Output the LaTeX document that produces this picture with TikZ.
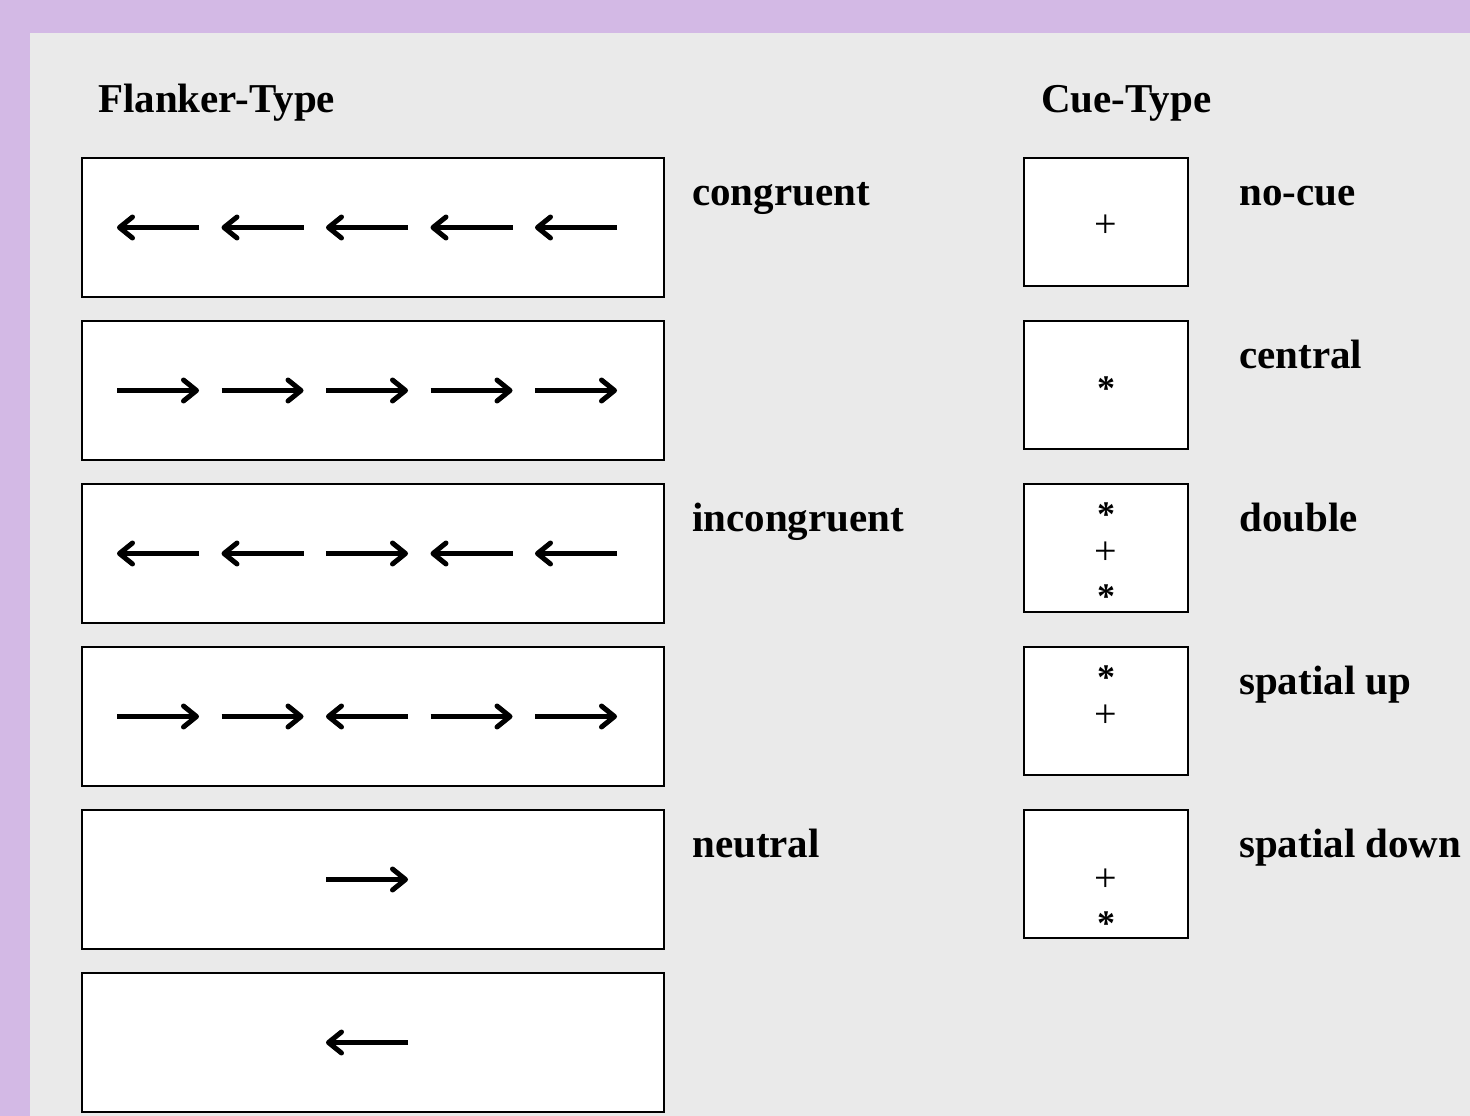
\documentclass[tikz,border=0pt]{standalone}
\usepackage{fontspec}
\setmainfont{Liberation Serif}
\usetikzlibrary{arrows.meta}
\definecolor{bgpurple}{RGB}{211,185,229}
\definecolor{panelgray}{RGB}{234,234,234}
\tikzset{
  fbox/.style={draw=black, line width=2pt, fill=white, minimum width=582pt, minimum height=139pt, inner sep=0pt},
  cbox/.style={draw=black, line width=2pt, fill=white, minimum width=164pt, minimum height=128pt, inner sep=0pt},
  lab/.style={font=\fontsize{41}{48}\selectfont\bfseries, inner sep=0pt, anchor=base west},
  sym/.style={font=\fontsize{40}{48}\selectfont, inner sep=0pt, anchor=base},
  ast/.style={font=\fontsize{36}{48}\selectfont\bfseries, inner sep=0pt, anchor=base},
  arr/.style={line width=5pt, -{Straight Barb[length=13pt,width=21pt,line cap=round,line join=round]}}
}
\begin{document}
\begin{tikzpicture}[x=1pt,y=-1pt]
\useasboundingbox (0,0) rectangle (1470,1116);
\fill[bgpurple] (0,0) rectangle (1470,1116);
\fill[panelgray] (30,33) rectangle (1470,1116);
% headings
\node[lab] (hflank) at (98,112) {Flanker-Type};
\node[lab] (hcue) at (1041,112) {Cue-Type};
% flanker boxes
\node[fbox] (f1) at (373,227.5) {};
\node[fbox] (f2) at (373,390.5) {};
\node[fbox] (f3) at (373,553.5) {};
\node[fbox] (f4) at (373,716.5) {};
\node[fbox] (f5) at (373,879.5) {};
\node[fbox] (f6) at (373,1042.5) {};
% arrows: d=1 right, d=-1 left
\foreach \k/\d in {0/-1,1/-1,2/-1,3/-1,4/-1}
  \draw[arr] ({117+104.5*\k+41-41*\d},227.5) -- ({117+104.5*\k+41+41*\d},227.5);
\foreach \k/\d in {0/1,1/1,2/1,3/1,4/1}
  \draw[arr] ({117+104.5*\k+41-41*\d},390.5) -- ({117+104.5*\k+41+41*\d},390.5);
\foreach \k/\d in {0/-1,1/-1,2/1,3/-1,4/-1}
  \draw[arr] ({117+104.5*\k+41-41*\d},553.5) -- ({117+104.5*\k+41+41*\d},553.5);
\foreach \k/\d in {0/1,1/1,2/-1,3/1,4/1}
  \draw[arr] ({117+104.5*\k+41-41*\d},716.5) -- ({117+104.5*\k+41+41*\d},716.5);
\foreach \k/\d in {2/1}
  \draw[arr] ({117+104.5*\k+41-41*\d},879.5) -- ({117+104.5*\k+41+41*\d},879.5);
\foreach \k/\d in {2/-1}
  \draw[arr] ({117+104.5*\k+41-41*\d},1042.5) -- ({117+104.5*\k+41+41*\d},1042.5);
% flanker labels
\node[lab] (lcong) at (692,205) {congruent};
\node[lab] (lincong) at (692,531) {incongruent};
\node[lab] (lneut) at (692,857) {neutral};
% cue boxes
\node[cbox] (c1) at (1106,222) {};
\node[cbox] (c2) at (1106,385) {};
\node[cbox] (c3) at (1106,548) {};
\node[cbox] (c4) at (1106,711) {};
\node[cbox] (c5) at (1106,874) {};
% cue symbols
\node[sym] (s1) at (1106,237) {+};
\node[ast] (s2) at (1106,400) {*};
\node[ast] (s3a) at (1106,526) {*};
\node[sym] (s3b) at (1106,564) {+};
\node[ast] (s3c) at (1106,608) {*};
\node[ast] (s4a) at (1106,689) {*};
\node[sym] (s4b) at (1106,727) {+};
\node[sym] (s5a) at (1106,891) {+};
\node[ast] (s5b) at (1106,935) {*};
% cue labels
\node[lab] (lno) at (1239,205) {no-cue};
\node[lab] (lcen) at (1239,368) {central};
\node[lab] (ldbl) at (1239,531) {double};
\node[lab] (lup) at (1239,694) {spatial up};
\node[lab] (ldown) at (1239,857) {spatial down};
\end{tikzpicture}
\end{document}
